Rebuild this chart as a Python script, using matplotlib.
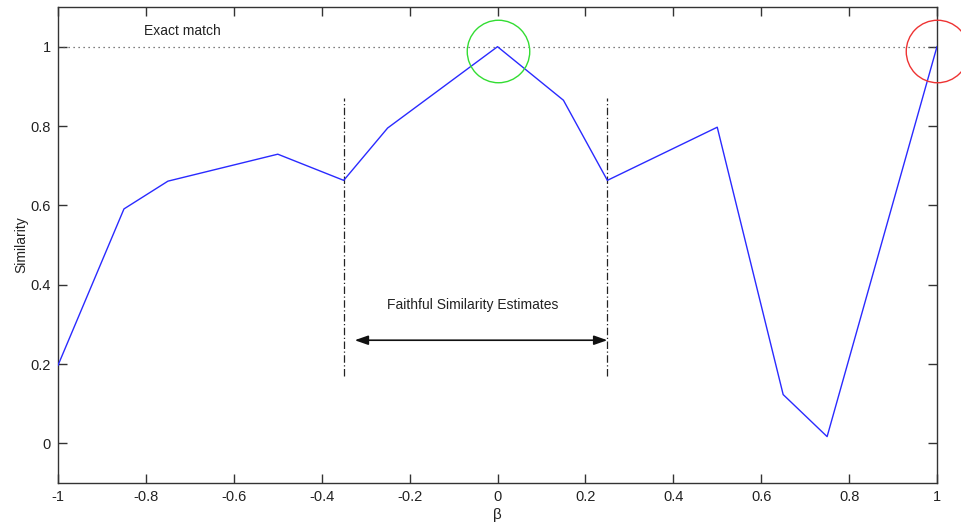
import matplotlib.pyplot as plt

plt.rcParams['font.family'] = ['Liberation Sans', 'DejaVu Sans']

# similarity vs beta
beta = [-1.0, -0.85, -0.75, -0.5, -0.35, -0.25, 0.0, 0.15, 0.25, 0.5, 0.65, 0.75, 1.0]
similarity = [0.197, 0.591, 0.661, 0.729, 0.663, 0.795, 1.0, 0.865, 0.663, 0.797, 0.123, 0.017, 1.0]

x_ticks = [-1, -0.8, -0.6, -0.4, -0.2, 0, 0.2, 0.4, 0.6, 0.8, 1]
x_tick_labels = ['-1', '-0.8', '-0.6', '-0.4', '-0.2', '0', '0.2', '0.4', '0.6', '0.8', '1']
y_ticks = [0, 0.2, 0.4, 0.6, 0.8, 1]
y_tick_labels = ['0', '0.2', '0.4', '0.6', '0.8', '1']

# faithful region bounds and annotation positions
region_bounds = [-0.35, 0.25]
region_span = (0.17, 0.87)
arrow_y = 0.26
circle_centers = [(0.0, 0.99, '#33dd33'), (1.0, 0.99, '#ee3333')]

fig = plt.figure(figsize=(9.61, 5.24), dpi=100)
ax = fig.add_axes([0.0604, 0.0782, 0.9146, 0.9084])

ax.plot(beta, similarity, color='#2a2aff', linewidth=1.0, zorder=3)

# exact match reference line
ax.axhline(1.0, color='#555555', linestyle=(0, (1, 3)), linewidth=0.9)
ax.text(-0.716, 1.04, 'Exact match', fontsize=10, ha='center', va='center', color='#222222')

# faithful region markers
for xb in region_bounds:
    ax.plot([xb, xb], region_span, color='#222222', linestyle='-.', linewidth=0.9,
            dashes=(6, 2, 1, 2))

ax.annotate('', xy=(-0.325, arrow_y), xytext=(region_bounds[1], arrow_y),
            arrowprops=dict(arrowstyle='<|-|>,head_length=0.8,head_width=0.28',
                            color='#111111', lw=1.2, shrinkA=0, shrinkB=0))
ax.text(-0.057, 0.35, 'Faithful Similarity Estimates', fontsize=10,
        ha='center', va='center', color='#222222')

# highlight circles
for cx, cy, col in circle_centers:
    ax.plot(cx, cy, marker='o', markersize=45, markerfacecolor='none',
            markeredgecolor=col, markeredgewidth=1.0, clip_on=False, zorder=4)

ax.set_xlim(-1, 1)
ax.set_ylim(-0.1, 1.1)
ax.set_xticks(x_ticks)
ax.set_xticklabels(x_tick_labels)
ax.set_yticks(y_ticks)
ax.set_yticklabels(y_tick_labels)
ax.tick_params(direction='in', length=6.5, width=1.0, top=True, right=True,
               labelsize=10.5, colors='#333333', labelcolor='#222222', pad=5)
for s in ax.spines.values():
    s.set_color('#333333')
    s.set_linewidth(1.0)

ax.set_xlabel('β', fontsize=11, color='#222222', labelpad=3)
ax.set_ylabel('Similarity', fontsize=10, color='#222222', labelpad=2)

fig.savefig('out.png', dpi=100)
